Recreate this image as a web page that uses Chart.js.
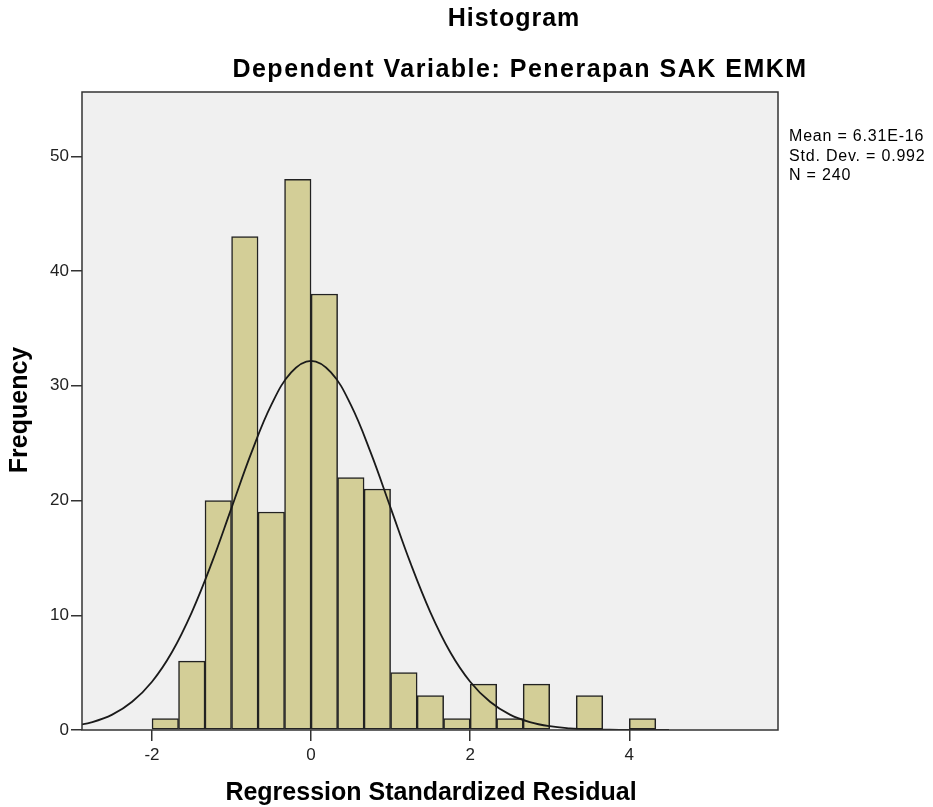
<!DOCTYPE html>
<html>
<head>
<meta charset="utf-8">
<script src="https://cdn.jsdelivr.net/npm/chart.js@4.4.1/dist/chart.umd.min.js"></script>
<style>
  html, body { margin: 0; padding: 0; background: #fff; }
  #wrap { width: 933px; height: 807px; }
</style>
</head>
<body>
<div id="wrap"><canvas id="hist" width="933" height="807"></canvas></div>
<script>
// bin centres (width 1/3) and counts
const binCenters = [-1.833, -1.5, -1.167, -0.833, -0.5, -0.167, 0.167, 0.5, 0.833, 1.167, 1.5, 1.833, 2.167, 2.5, 2.833, 3.5, 4.167]
const counts = [1, 6, 20, 43, 19, 48, 38, 22, 21, 5, 3, 1, 4, 1, 4, 3, 1]

// normal curve
const curveX = [-3, -2.75, -2.5, -2.25, -2, -1.75, -1.5, -1.25, -1, -0.75, -0.5, -0.25, 0, 0.25, 0.5, 0.75, 1, 1.25, 1.5, 1.75, 2, 2.25, 2.5, 2.75, 3, 3.25, 3.5, 3.75, 4, 4.5]
const curveY = [0.33, 0.69, 1.34, 2.46, 4.21, 6.78, 10.26, 14.54, 19.36, 24.17, 28.33, 31.16, 32.17, 31.16, 28.33, 24.17, 19.36, 14.54, 10.26, 6.78, 4.21, 2.46, 1.34, 0.69, 0.33, 0.15, 0.06, 0.03, 0.01, 0]

const xTicks = [-2, 0, 2, 4]
const yTicks = [0, 10, 20, 30, 40, 50]

const statsLines = ['Mean = 6.31E-16', 'Std. Dev. = 0.992', 'N = 240']

const font = '"Liberation Sans", Arial, sans-serif'

function spacedText(ctx, text, x, y, spacing) {
    // canvas letterSpacing if available
    if ('letterSpacing' in ctx) {
        ctx.letterSpacing = spacing + 'px'
        ctx.fillText(text, x, y)
        ctx.letterSpacing = '0px'
    } else {
        ctx.fillText(text, x, y)
    }
}

const decor = {
    id: 'decor',
    beforeDraw(chart) {
        const { ctx, chartArea: a } = chart
        ctx.save()
        ctx.fillStyle = '#f0f0f0'
        ctx.fillRect(a.left, a.top, a.right - a.left, a.bottom - a.top)
        ctx.restore()
    },
    afterDraw(chart) {
        const { ctx, chartArea: a } = chart
        ctx.save()
        ctx.strokeStyle = '#333'
        ctx.lineWidth = 1.5
        ctx.strokeRect(a.left, a.top, a.right - a.left, a.bottom - a.top)

        ctx.fillStyle = '#000'
        ctx.textAlign = 'center'
        ctx.textBaseline = 'middle'
        ctx.font = 'bold 25px ' + font
        spacedText(ctx, 'Histogram', 514, 19, 1)
        spacedText(ctx, 'Dependent Variable: Penerapan SAK EMKM', 520, 70, 1.5)
        spacedText(ctx, 'Regression Standardized Residual', 431, 793, 0)

        ctx.save()
        ctx.translate(20, 410)
        ctx.rotate(-Math.PI / 2)
        ctx.fillText('Frequency', 0, 0)
        ctx.restore()

        ctx.textAlign = 'left'
        ctx.font = '16px ' + font
        statsLines.forEach((t, i) => spacedText(ctx, t, 789, 137 + i * 19.5, 0.8))
        ctx.restore()
    }
}

const ctx = document.getElementById('hist').getContext('2d')
const chart = new Chart(ctx, {
    type: 'bar',
    data: {
        datasets: [{
            type: 'line',
            data: curveX.map((x, i) => ({ x: x, y: curveY[i] })),
            borderColor: '#1a1a1a',
            borderWidth: 1.8,
            pointRadius: 0,
            tension: 0.4,
            fill: false,
            order: 0
        }, {
            type: 'bar',
            data: binCenters.map((x, i) => ({ x: x, y: counts[i] })),
            backgroundColor: '#d3ce97',
            borderColor: '#222',
            borderWidth: 1.5,
            borderSkipped: false,
            barPercentage: 1,
            categoryPercentage: 1,
            grouped: false,
            order: 1
        }]
    },
    options: {
        responsive: false,
        animation: false,
        layout: { padding: { left: 0, right: 155, top: 92, bottom: 0 } },
        plugins: {
            legend: { display: false },
            tooltip: { enabled: false }
        },
        scales: {
            x: {
                type: 'linear',
                min: -2.88,
                max: 5.87,
                offset: false,
                afterBuildTicks: axis => { axis.ticks = xTicks.map(v => ({ value: v })) },
                afterFit: axis => { axis.height = 77 },
                grid: { display: true, offset: false, drawOnChartArea: false, drawTicks: true, tickLength: 11, color: '#333', lineWidth: 1.5 },
                border: { display: false },
                ticks: { color: '#222', font: { family: font, size: 17 }, padding: 4 }
            },
            y: {
                min: 0,
                max: 55.6,
                afterBuildTicks: axis => { axis.ticks = yTicks.map(v => ({ value: v })) },
                afterFit: axis => { axis.width = 82 },
                grid: { display: true, drawOnChartArea: false, drawTicks: true, tickLength: 11, color: '#333', lineWidth: 1.5 },
                border: { display: false },
                ticks: { color: '#222', font: { family: font, size: 17 }, padding: 2 }
            }
        }
    },
    plugins: [decor]
})
</script>
</body>
</html>
